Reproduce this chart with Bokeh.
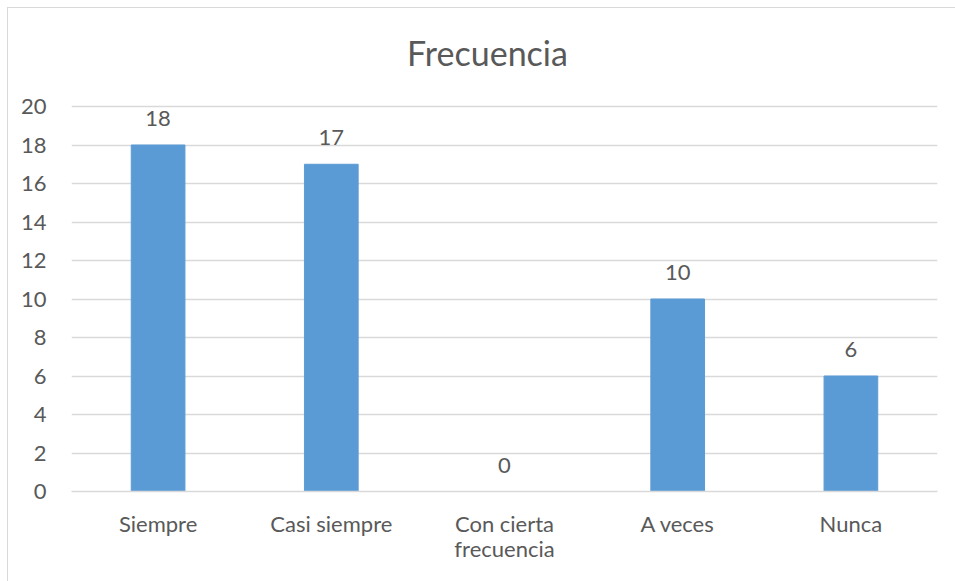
from bokeh.plotting import figure
from bokeh.models import FactorRange, Range1d
from bokeh.embed import file_html
from bokeh.resources import INLINE
from bokeh.core.properties import value

categories = ["Siempre", "Casi siempre", "Con cierta\nfrecuencia", "A veces", "Nunca"]
frecuencia = [18, 17, 0, 10, 6]
y_ticks = [0, 2, 4, 6, 8, 10, 12, 14, 16, 18, 20]
titulo = "Frecuencia"

FONT = "Lato"
TXT = "#595959"

W, H = 948, 574
TOP, BOTTOM = 1, 91
# frame extends up to the chart border; 0..20 occupies the lower 385 px
y_end = y_ticks[-1] * (H - TOP - BOTTOM) / 385.0

p = figure(width=W, height=H, output_backend="svg", toolbar_location=None,
           x_range=FactorRange(*categories, range_padding=0),
           y_range=Range1d(0, y_end),
           margin=(7, 0, 0, 7),
           styles={"border-top": "1px solid #D9D9D9", "border-left": "1px solid #D9D9D9",
                   "box-sizing": "border-box"},
           min_border_left=63, min_border_right=19, min_border_top=TOP, min_border_bottom=BOTTOM)

p.text(x=[categories[2]], y=[y_ticks[-1]], text=[titulo],
       x_offset=-17, y_offset=-54, text_align="center", text_baseline="middle",
       text_font=value(FONT), text_font_size="34px", text_color=TXT)

p.vbar(x=categories, top=frecuencia, width=0.31, color="#5B9BD5")
p.text(x=categories, y=frecuencia, text=[str(v) for v in frecuencia],
       text_align="center", text_baseline="bottom", y_offset=-19,
       text_font=value(FONT), text_font_size="22px", text_color=TXT)

p.outline_line_color = None
p.xgrid.grid_line_color = None
p.ygrid.grid_line_color = "#D9D9D9"
p.ygrid.grid_line_width = 1.5
p.yaxis.ticker = y_ticks
p.yaxis.axis_line_color = None
p.yaxis.major_tick_line_color = None
p.yaxis.minor_tick_line_color = None
p.yaxis.major_label_standoff = 19
p.xaxis.axis_line_color = "#D9D9D9"
p.xaxis.axis_line_width = 1.5
p.xaxis.major_tick_line_color = None
p.xaxis.minor_tick_line_color = None
p.xaxis.major_label_standoff = 12
p.xaxis.major_label_text_line_height = 0.95
for ax in (p.xaxis, p.yaxis):
    ax.major_label_text_font = FONT
    ax.major_label_text_font_size = "22px"
    ax.major_label_text_color = TXT

open("out.html", "w").write(file_html(p, INLINE))
